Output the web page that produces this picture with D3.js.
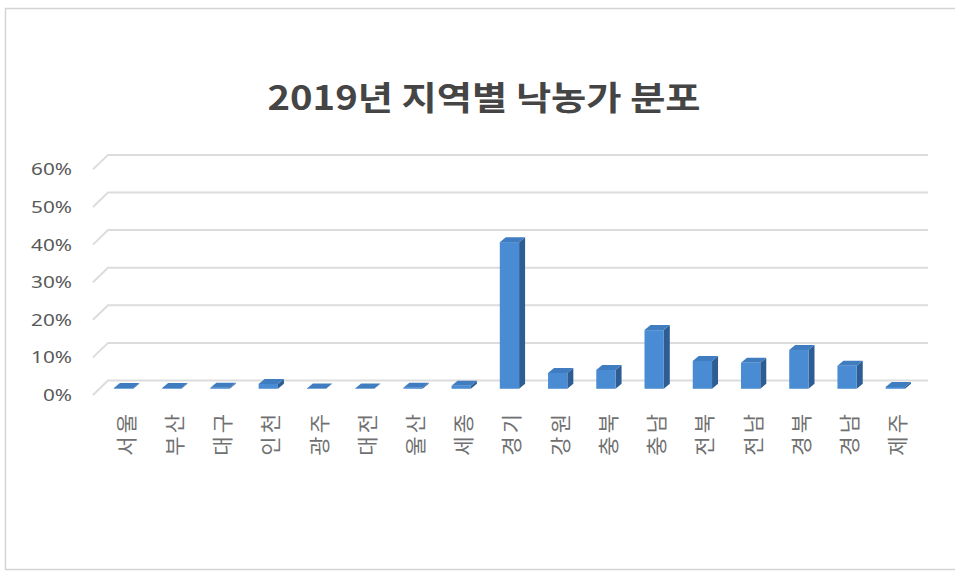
<!DOCTYPE html>
<html>
<head>
<meta charset="utf-8">
<script src="https://cdn.jsdelivr.net/npm/d3@7"></script>
<style>
  html, body { margin: 0; padding: 0; background: #fff; }
  svg { display: block; }
</style>
</head>
<body>
<svg id="chart" width="955" height="580"></svg>
<script>
// 2019 dairy farm share by region (%)
const regions = ["서울", "부산", "대구", "인천", "광주", "대전", "울산", "세종", "경기",
                 "강원", "충북", "충남", "전북", "전남", "경북", "경남", "제주"];
const shares = [0.2, 0.2, 0.3, 1.3, 0.1, 0.1, 0.3, 0.8, 39.0,
                4.2, 5.0, 15.6, 7.4, 6.9, 10.3, 6.1, 0.5];
const yTicks = [0, 10, 20, 30, 40, 50, 60];
const titleText = "2019년 지역별 낙농가 분포";

const svg = d3.select("#chart");

// frame
svg.append("rect")
  .attr("x", 5.5).attr("y", 8.5)
  .attr("width", 960).attr("height", 561)
  .attr("fill", "#fff").attr("stroke", "#d4d4d4").attr("stroke-width", 1.5);

// title (slightly widened lettering)
svg.append("text")
  .attr("transform", "translate(484,110) scale(1.16,1)")
  .attr("text-anchor", "middle")
  .attr("font-family", "'Noto Sans CJK KR', sans-serif")
  .attr("font-weight", "bold")
  .attr("font-size", 33)
  .attr("fill", "#454545")
  .text(titleText);

// pseudo-3D geometry: front floor edge, wall depth offset
const floorX0 = 93, floorX1 = 913;
const depthX = 15, depthY = -14.5;

const y = d3.scaleLinear().domain([0, 60]).range([395, 395 - 6 * 37.6]);
const x = d3.scaleBand().domain(regions).range([floorX0, floorX1]).paddingInner(0.6).paddingOuter(0.3);

// gridlines: short diagonal on side wall, then along back wall
const grid = svg.append("g");
yTicks.forEach(t => {
  const yf = y(t);
  grid.append("path")
    .attr("d", `M${floorX0},${yf} L${floorX0 + depthX},${yf + depthY} L${floorX1 + depthX},${yf + depthY}`)
    .attr("fill", "none")
    .attr("stroke", "#dcdcdc")
    .attr("stroke-width", 2);
});

// y axis labels
const yAxis = d3.axisLeft(y).tickValues(yTicks).tickFormat(d => d + "%").tickSize(0).tickPadding(0);
const yg = svg.append("g").attr("transform", "translate(72,0)").call(yAxis);
yg.select(".domain").remove();
yg.selectAll(".tick text")
  .attr("font-family", "'Noto Sans', sans-serif")
  .attr("font-size", 17)
  .attr("fill", "#595959")
  .attr("transform", "scale(1.22,1)");

// bars: front face sits part-way into the depth
const barDepthF = 0.43;
const topDX = 6, topDY = -5;
const bx = depthX * barDepthF, by = depthY * barDepthF;

const bars = svg.append("g");
regions.forEach((r, i) => {
  const v = shares[i];
  const x0 = x(r) + bx, x1 = x0 + x.bandwidth();
  const y0 = y(0) + by, y1 = y(v) + by;
  // side face
  bars.append("path")
    .attr("d", `M${x1},${y0} L${x1 + topDX},${y0 + topDY} L${x1 + topDX},${y1 + topDY} L${x1},${y1} Z`)
    .attr("fill", "#2d5d93");
  // front face
  bars.append("rect")
    .attr("x", x0).attr("y", y1)
    .attr("width", x1 - x0).attr("height", Math.max(0, y0 - y1))
    .attr("fill", "#4a8cd3");
  // top face
  bars.append("path")
    .attr("d", `M${x0},${y1} L${x0 + topDX},${y1 + topDY} L${x1 + topDX},${y1 + topDY} L${x1},${y1} Z`)
    .attr("fill", "#3f7cc0");
});

// category labels, rotated
const xl = svg.append("g");
regions.forEach(r => {
  const cx = x(r) + bx + x.bandwidth() / 2;
  xl.append("text")
    .attr("transform", `translate(${cx + 10},411) rotate(-90)`)
    .attr("text-anchor", "end")
    .attr("font-family", "'Noto Sans CJK KR', sans-serif")
    .attr("font-size", 21)
    .attr("letter-spacing", 3)
    .attr("fill", "#707070")
    .text(r);
});
</script>
</body>
</html>
